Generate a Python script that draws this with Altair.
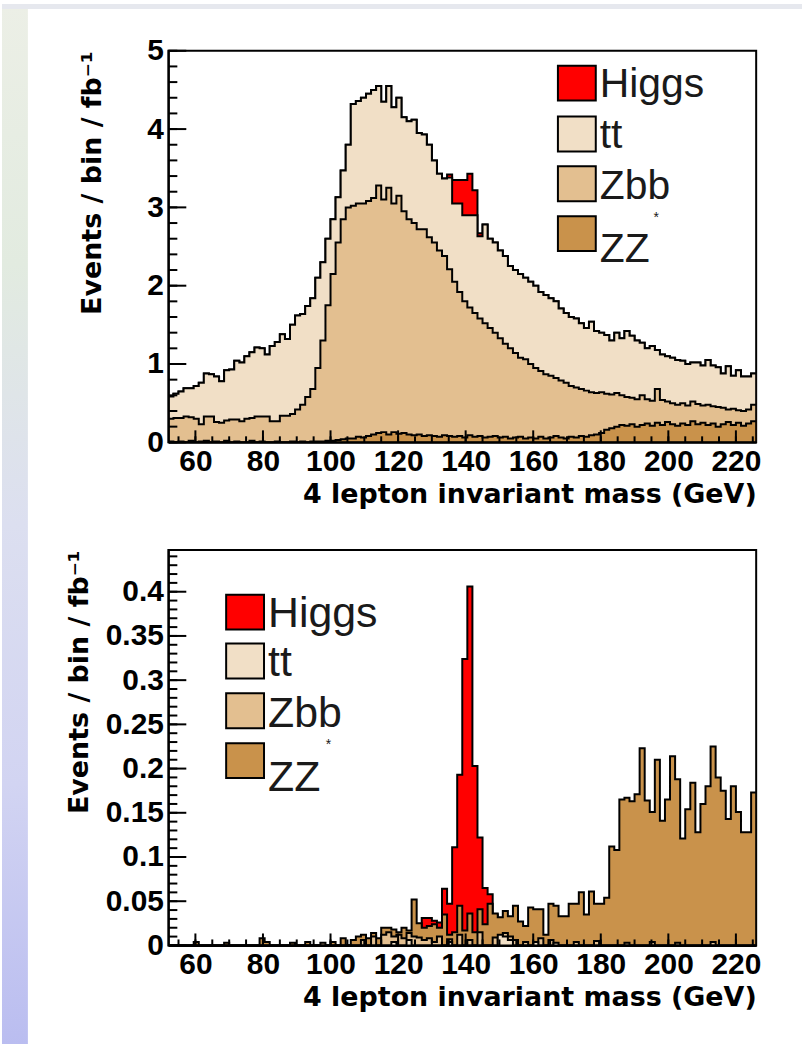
import altair as alt
import pandas as pd

# ---------------- binning ----------------
X_LO, X_HI, BIN_W = 52.0, 226.0, 1.5
N_BINS = 116
edges = [X_LO + BIN_W * i for i in range(N_BINS + 1)]

x_labels = [60, 80, 100, 120, 140, 160, 180, 200, 220]
x_minor = [55 + 5 * k for k in range(35)]

# ---------------- top panel (before cuts): stack boundaries as drawn ----------------
top_tt_top = [
    0.585, 0.62, 0.65, 0.69, 0.69, 0.72, 0.76, 0.88, 0.87, 0.84,
    0.78, 0.92, 0.93, 1.04, 1.02, 1.10, 1.15, 1.21, 1.20, 1.12,
    1.23, 1.28, 1.38, 1.32, 1.50, 1.62, 1.64, 1.74, 1.84, 2.10,
    2.30, 2.60, 2.85, 3.13, 3.47, 3.80, 4.32, 4.36, 4.40, 4.45,
    4.50, 4.55, 4.35, 4.55, 4.28, 4.40, 4.15, 4.10, 4.12, 3.95,
    3.93, 3.80, 3.60, 3.43, 3.37, 3.38, 3.05, 3.05, 2.90, 2.90,
    2.90, 2.63, 2.78, 2.60, 2.55, 2.45, 2.38, 2.25, 2.20, 2.15,
    2.10, 2.05, 2.00, 1.92, 1.88, 1.84, 1.80, 1.71, 1.65, 1.60,
    1.58, 1.52, 1.46, 1.54, 1.42, 1.40, 1.37, 1.30, 1.40, 1.33,
    1.42, 1.36, 1.30, 1.27, 1.20, 1.23, 1.18, 1.12, 1.10, 1.08,
    1.05, 1.04, 1.00, 1.02, 1.02, 0.98, 1.05, 0.98, 0.96, 0.88,
    0.97, 0.85, 0.92, 0.84, 0.84, 0.88,
]
top_higgs = [0.0] * 55 + [0.04, 0.30, 0.30, 0.45, 0.53, 0.32, 0.04] + [0.0] * 54
top_zbb_top = [
    0.30, 0.31, 0.31, 0.33, 0.32, 0.30, 0.23, 0.33, 0.33, 0.26,
    0.25, 0.28, 0.29, 0.29, 0.27, 0.30, 0.31, 0.33, 0.33, 0.33,
    0.27, 0.27, 0.34, 0.34, 0.36, 0.42, 0.48, 0.58, 0.68, 0.95,
    1.30, 1.75, 2.15, 2.55, 2.85, 3.00, 3.02, 3.05, 3.05, 3.08,
    3.12, 3.28, 3.10, 3.25, 3.05, 3.15, 2.95, 2.85, 2.80, 2.72,
    2.72, 2.62, 2.55, 2.45, 2.38, 2.21, 2.05, 1.92, 1.80, 1.72,
    1.65, 1.58, 1.52, 1.46, 1.40, 1.33, 1.26, 1.20, 1.14, 1.08,
    1.06, 1.00, 0.95, 0.91, 0.87, 0.85, 0.82, 0.79, 0.76, 0.72,
    0.70, 0.68, 0.66, 0.64, 0.63, 0.64, 0.62, 0.61, 0.63, 0.60,
    0.58, 0.57, 0.55, 0.60, 0.55, 0.53, 0.68, 0.54, 0.52, 0.50,
    0.48, 0.50, 0.47, 0.52, 0.49, 0.47, 0.48, 0.46, 0.45, 0.44,
    0.42, 0.43, 0.41, 0.40, 0.42, 0.48,
]
top_zz = [
    0.01, 0.0, 0.01, 0.0, 0.02, 0.0, 0.01, 0.02, 0.0, 0.01,
    0.0, 0.02, 0.0, 0.01, 0.0, 0.0, 0.02, 0.0, 0.01, 0.0,
    0.0, 0.01, 0.0, 0.0, 0.01, 0.0, 0.01, 0.0, 0.01, 0.01,
    0.01, 0.02, 0.02, 0.03, 0.04, 0.05, 0.05, 0.07, 0.06, 0.08,
    0.10, 0.12, 0.13, 0.10, 0.13, 0.11, 0.12, 0.10, 0.09, 0.10,
    0.08, 0.09, 0.08, 0.07, 0.09, 0.08, 0.07, 0.08, 0.06, 0.09,
    0.07, 0.08, 0.06, 0.07, 0.08, 0.06, 0.07, 0.05, 0.06, 0.07,
    0.05, 0.06, 0.05, 0.07, 0.05, 0.06, 0.08, 0.06, 0.05, 0.07,
    0.06, 0.08, 0.07, 0.09, 0.10, 0.12, 0.16, 0.18, 0.20, 0.22,
    0.21, 0.23, 0.20, 0.22, 0.24, 0.21, 0.25, 0.22, 0.26, 0.23,
    0.21, 0.24, 0.22, 0.27, 0.23, 0.25, 0.22, 0.24, 0.20, 0.23,
    0.26, 0.22, 0.25, 0.21, 0.24, 0.27,
]

# ---------------- bottom panel (after cuts): histograms overlaid ----------------
bot_higgs = [0.0] * 50 + [
    0.031, 0.031, 0.028, 0.026, 0.064, 0.047, 0.111, 0.193, 0.324, 0.406,
    0.203, 0.122, 0.065, 0.058, 0.035,
] + [0.0] * 51
bot_zz = [
    0.0, 0.0, 0.0, 0.0, 0.0, 0.004, 0.0, 0.0, 0.0, 0.0,
    0.0, 0.003, 0.0, 0.0, 0.0, 0.0, 0.0, 0.0, 0.008, 0.004,
    0.0, 0.0, 0.0, 0.0, 0.003, 0.0, 0.0, 0.004, 0.0, 0.0,
    0.0, 0.0, 0.004, 0.0, 0.008, 0.0, 0.006, 0.010, 0.012, 0.008,
    0.014, 0.008, 0.020, 0.020, 0.018,
    0.015, 0.020, 0.017, 0.052, 0.025, 0.020, 0.022, 0.024, 0.020, 0.035,
    0.012, 0.015, 0.045, 0.017, 0.036, 0.015, 0.041, 0.024, 0.047, 0.036,
    0.032, 0.039, 0.033, 0.045, 0.027, 0.022, 0.043, 0.041, 0.041, 0.012,
    0.047, 0.045, 0.033, 0.033, 0.047, 0.047, 0.060, 0.035, 0.061, 0.047,
    0.047, 0.054, 0.112, 0.108, 0.165, 0.167, 0.163, 0.171, 0.223, 0.164,
    0.151, 0.210, 0.141, 0.165, 0.214, 0.188, 0.121, 0.154, 0.184, 0.128,
    0.160, 0.180, 0.225, 0.190, 0.175, 0.143, 0.180, 0.151, 0.128, 0.128, 0.173,
]
bot_zbb = [0.0] * 30 + [
    0.003, 0.0, 0.0, 0.0, 0.0, 0.0, 0.0, 0.0, 0.006, 0.0,
    0.010, 0.0, 0.012, 0.015, 0.010, 0.012, 0.008, 0.014, 0.010, 0.009,
    0.006, 0.008, 0.004, 0.010, 0.0, 0.007, 0.0, 0.012, 0.0, 0.006,
    0.0, 0.015, 0.0, 0.0, 0.009, 0.0, 0.014, 0.010, 0.006, 0.0,
    0.004, 0.0, 0.0, 0.008, 0.0, 0.006, 0.0, 0.0, 0.0, 0.0,
    0.004, 0.0, 0.0, 0.0, 0.005, 0.0, 0.0, 0.0, 0.0, 0.0,
    0.003, 0.0, 0.0, 0.0, 0.0, 0.004, 0.0, 0.0, 0.0, 0.0,
    0.003, 0.0, 0.0, 0.0, 0.0, 0.0, 0.0, 0.004, 0.0, 0.0,
    0.0, 0.0, 0.0, 0.0, 0.0, 0.0,
]
bot_tt = [0.0] * 40 + [
    0.0, 0.0, 0.0, 0.0, 0.004, 0.0, 0.0, 0.006, 0.0, 0.0,
    0.0, 0.0, 0.0, 0.0, 0.0, 0.004, 0.0, 0.0, 0.0, 0.0,
    0.0, 0.0, 0.0, 0.0, 0.0, 0.012, 0.010, 0.006, 0.0, 0.0,
    0.0, 0.0, 0.004, 0.0, 0.0, 0.0, 0.003, 0.0, 0.0, 0.0,
] + [0.0] * 36

legend_labels = ["Higgs", "tt", "Zbb", "ZZ"]
C_HIGGS, C_TT, C_ZBB, C_ZZ = "#ff0000", "#f1dfc6", "#e3bf90", "#c9924b"
legend_colors = [C_HIGGS, C_TT, C_ZBB, C_ZZ]

W = 590
H_TOP, H_BOT = 393, 397
LABEL_FONT = "Liberation Sans"
TITLE_FONT = "DejaVu Sans"
Y_TITLE = "Events / bin / fb\u207b\u00b9"
X_TITLE = "4 lepton invariant mass (GeV)"

one = pd.DataFrame({"a": [0]})


def step_df(values):
    return pd.DataFrame({"m": edges, "v": list(values) + [values[-1]]})


def make_panel(y_max, y_labels, y_fmt, y_major, y_minor, H, y_title_pad,
               hist_layers, legend_pos, extra_layers):
    xs = alt.Scale(domain=[X_LO, X_HI], nice=False, zero=False)
    ys = alt.Scale(domain=[0, y_max], nice=False, zero=True)
    xaxis = alt.Axis(values=x_labels, title=X_TITLE, ticks=False, tickSize=0,
                     grid=False, domain=True, domainColor="black", domainWidth=2,
                     labelFont=LABEL_FONT, labelFontSize=30, labelFontWeight="bold",
                     labelColor="black", labelPadding=4, labelFlush=False,
                     labelOverlap=False,
                     titleFont=TITLE_FONT, titleFontSize=27, titleFontWeight="bold",
                     titleColor="black", titleAnchor="end", titlePadding=5, zindex=1)
    yaxis = alt.Axis(values=y_labels, format=y_fmt, title=Y_TITLE, ticks=False,
                     tickSize=0, grid=False, domain=True, domainColor="black",
                     domainWidth=2, labelFont=LABEL_FONT, labelFontSize=30,
                     labelFontWeight="bold", labelColor="black", labelPadding=5,
                     labelOverlap=False,
                     titleFont=TITLE_FONT, titleFontSize=27, titleFontWeight="bold",
                     titleColor="black", titleAnchor="end", titlePadding=y_title_pad,
                     zindex=1)

    layers = list(extra_layers)
    for values, color in hist_layers:
        layers.append(
            alt.Chart(step_df(values)).mark_area(
                interpolate="step-after", fill=color, stroke="black",
                strokeWidth=2, clip=True
            ).encode(
                x=alt.X("m:Q", scale=xs, axis=xaxis),
                y=alt.Y("v:Q", scale=ys, axis=yaxis),
            )
        )
    # inward ticks (ROOT style)
    for vals, length in [(x_minor, 6), (x_labels, 12)]:
        layers.append(
            alt.Chart(pd.DataFrame({"t": vals})).mark_rule(color="black", strokeWidth=2)
            .encode(x=alt.X("t:Q", scale=xs, axis=xaxis),
                    y=alt.value(H), y2=alt.value(H - length))
        )
    for vals, length in [(y_minor, 9), (y_major, 18)]:
        layers.append(
            alt.Chart(pd.DataFrame({"t": vals})).mark_rule(color="black", strokeWidth=2)
            .encode(y=alt.Y("t:Q", scale=ys, axis=yaxis),
                    x=alt.value(0), x2=alt.value(length))
        )
    # legend
    bx, by_list, bw, bh, tx, base_list, fsize, star_xy = legend_pos
    for lab, col, by, base in zip(legend_labels, legend_colors, by_list, base_list):
        layers.append(
            alt.Chart(one).mark_rect(fill=col, stroke="black", strokeWidth=2)
            .encode(x=alt.value(bx), x2=alt.value(bx + bw),
                    y=alt.value(by), y2=alt.value(by + bh))
        )
        layers.append(
            alt.Chart(one).mark_text(align="left", baseline="alphabetic",
                                     font=LABEL_FONT, fontSize=fsize, color="#1a1a1a")
            .encode(x=alt.value(tx), y=alt.value(base), text=alt.value(lab))
        )
    layers.append(
        alt.Chart(one).mark_text(align="left", baseline="middle", font=LABEL_FONT,
                                 fontSize=14, color="#1a1a1a")
        .encode(x=alt.value(star_xy[0]), y=alt.value(star_xy[1]), text=alt.value("*"))
    )
    return alt.layer(*layers).properties(
        width=W, height=H,
        view=alt.ViewBackground(fill="white", stroke="black", strokeWidth=2),
    )


# decorative page background (blurred slide edge)
strip = alt.Chart(one).mark_rect(
    fill=alt.LinearGradient(
        gradient="linear",
        stops=[alt.GradientStop(color="#ecefe6", offset=0.0),
               alt.GradientStop(color="#e2ebe0", offset=0.25),
               alt.GradientStop(color="#dcdff0", offset=0.5),
               alt.GradientStop(color="#d2d4f2", offset=0.75),
               alt.GradientStop(color="#babdf0", offset=1.0)],
        x1=0, x2=0, y1=0, y2=1),
    stroke="transparent",
).encode(x=alt.value(-167), x2=alt.value(-141), y=alt.value(-47), y2=alt.value(997))
top_strip = alt.Chart(one).mark_rect(fill="#e6e8ee").encode(
    x=alt.value(-167), x2=alt.value(636), y=alt.value(-47), y2=alt.value(-42))

top_total = [a + b for a, b in zip(top_tt_top, top_higgs)]

top = make_panel(
    y_max=5.0, y_labels=[0, 1, 2, 3, 4, 5], y_fmt="d",
    y_major=[0, 1, 2, 3, 4, 5], y_minor=[0.2 * k for k in range(26)],
    H=H_TOP, y_title_pad=40,
    hist_layers=[(top_total, C_HIGGS), (top_tt_top, C_TT),
                 (top_zbb_top, C_ZBB), (top_zz, C_ZZ)],
    legend_pos=(391, [15, 66, 116, 166], 38, 35, 433, [46, 98, 149, 212], 41, (487, 168)),
    extra_layers=[strip, top_strip],
)

bottom = make_panel(
    y_max=0.4473, y_labels=[0, 0.05, 0.1, 0.15, 0.2, 0.25, 0.3, 0.35, 0.4], y_fmt="~g",
    y_major=[0, 0.05, 0.1, 0.15, 0.2, 0.25, 0.3, 0.35, 0.4],
    y_minor=[0.01 * k for k in range(45)],
    H=H_BOT, y_title_pad=12,
    hist_layers=[(bot_higgs, C_HIGGS), (bot_zz, C_ZZ), (bot_zbb, C_ZBB), (bot_tt, C_TT)],
    legend_pos=(58, [45, 94, 144, 194], 38, 35, 100, [77, 127, 178, 242], 43, (158, 196)),
    extra_layers=[],
)

chart = alt.vconcat(top, bottom, spacing=108, bounds="flush").properties(
    padding=0
).configure_view(strokeWidth=0)

chart.save("out.html", embed_options={"renderer": "svg", "actions": False})
